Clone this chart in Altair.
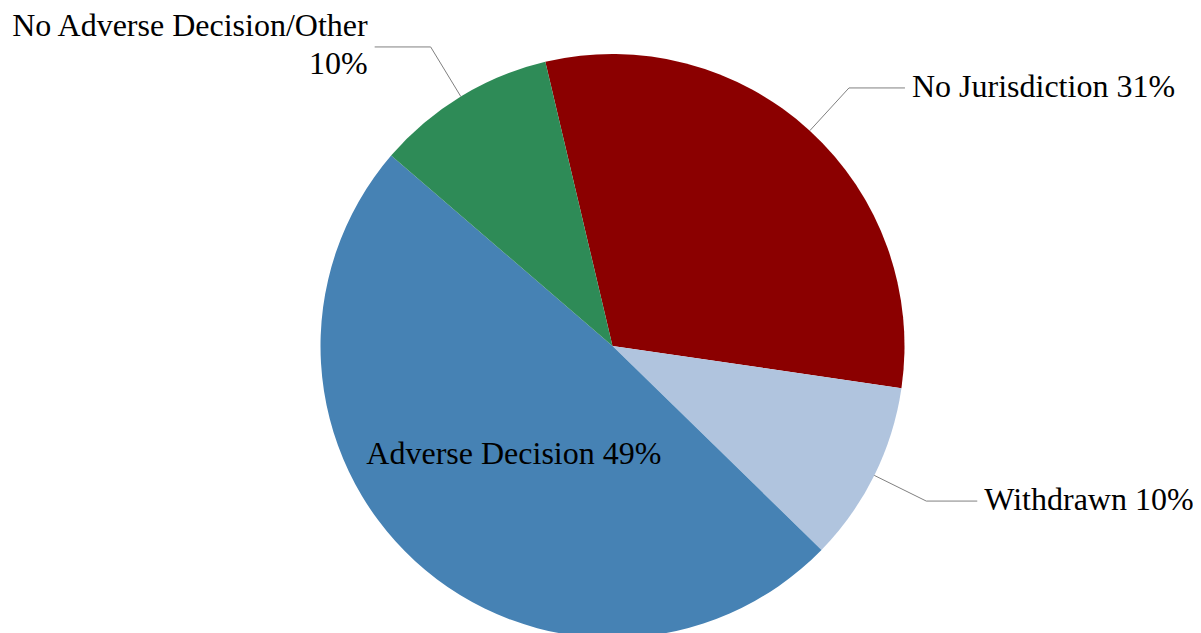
import math
import altair as alt
import pandas as pd

# ---- data ----
categories = ["No Jurisdiction", "Withdrawn", "Adverse Decision", "No Adverse Decision/Other"]
percents = [31, 10, 49, 10]
labels = ["No Jurisdiction 31%", "Withdrawn 10%", "Adverse Decision 49%", "No Adverse Decision/Other\n10%"]
colors = ["#8B0000", "#B0C4DE", "#4682B4", "#2E8B57"]
label_side = ["right", "right", "inside", "left"]

# ---- layout ----
W, H = 1185, 625
CX, CY, R = 604.5, 338.0, 292.0
START_DEG = -13.3
ELBOW, GAP = 58.0, 7.0
ARMS = [56.0, 51.0, 0.0, 56.0]
FONT = "Liberation Serif"
FS = 32

total = sum(percents)
start_rad = math.radians(START_DEG)

pie_df = pd.DataFrame({"cat": categories, "val": percents, "idx": list(range(len(categories)))})

line_rows, right_rows, left_rows, inside_rows = [], [], [], []
cum = 0.0
for i, (c, v, lab, side) in enumerate(zip(categories, percents, labels, label_side)):
    mid = start_rad + 2 * math.pi * (cum + v / 2) / total
    cum += v
    sx, sy = math.sin(mid), -math.cos(mid)
    if side == "inside":
        inside_rows.append({"x": CX + sx * R * 0.5, "y": CY + sy * R * 0.5, "label": lab})
        continue
    ex, ey = CX + sx * R, CY + sy * R
    bx, by = CX + sx * (R + ELBOW), CY + sy * (R + ELBOW)
    d = 1 if side == "right" else -1
    hx = bx + d * ARMS[i]
    line_rows += [
        {"cat": c, "pt": 0, "x": ex, "y": ey},
        {"cat": c, "pt": 1, "x": bx, "y": by},
        {"cat": c, "pt": 2, "x": hx, "y": by},
    ]
    row = {"x": hx + d * GAP, "y": by, "label": lab}
    (right_rows if side == "right" else left_rows).append(row)

xs = alt.Scale(domain=[0, W], range=[0, W], zero=False, nice=False)
ys = alt.Scale(domain=[0, H], range=[0, H], zero=False, nice=False)

pie = alt.Chart(pie_df).mark_arc(outerRadius=R, strokeWidth=0).encode(
    theta=alt.Theta("val:Q", stack=True,
                    scale=alt.Scale(range=[2 * math.pi + start_rad, 4 * math.pi + start_rad])),
    color=alt.Color("cat:N", scale=alt.Scale(domain=categories, range=colors), legend=None),
    order=alt.Order("idx:Q"),
    x=alt.value(CX),
    y=alt.value(CY),
)

leaders = alt.Chart(pd.DataFrame(line_rows)).mark_line(color="#808080", strokeWidth=1).encode(
    x=alt.X("x:Q", scale=xs, axis=None),
    y=alt.Y("y:Q", scale=ys, axis=None),
    detail="cat:N",
    order="pt:Q",
)

def text_layer(rows, align, dy=0):
    return alt.Chart(pd.DataFrame(rows)).mark_text(
        align=align, baseline="middle", font=FONT, fontSize=FS, color="black",
        lineBreak="\n", lineHeight=38, dy=dy,
    ).encode(
        x=alt.X("x:Q", scale=xs, axis=None),
        y=alt.Y("y:Q", scale=ys, axis=None),
        text="label:N",
    )

chart = alt.layer(
    pie, leaders,
    text_layer(right_rows, "left", dy=-1),
    text_layer(left_rows, "right", dy=-21),
    text_layer(inside_rows, "center"),
).properties(
    width=W, height=H, padding=0, background="white",
    autosize=alt.AutoSizeParams(type="none"),
).configure_view(strokeWidth=0)

chart.save("out.html", embed_options={"renderer": "svg", "actions": False})
